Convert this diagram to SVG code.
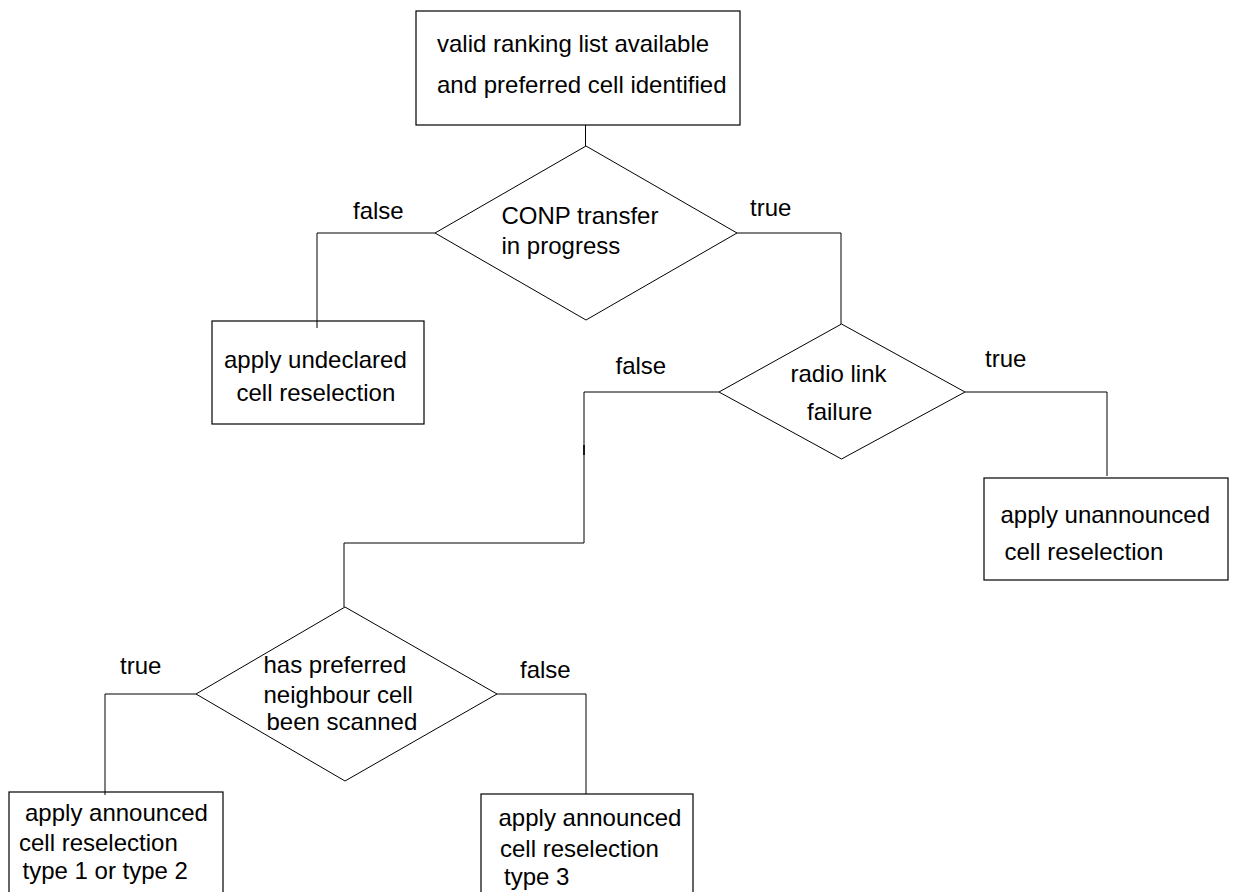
<svg xmlns="http://www.w3.org/2000/svg" width="1240" height="892" viewBox="0 0 1240 892">
<style>
.box{fill:none;stroke:#000;stroke-width:1.2}
.dia{fill:none;stroke:#000;stroke-width:1}
.con{fill:none;stroke:#000;stroke-width:1}
text{font-family:"Liberation Sans",Arial,sans-serif;font-size:24px;fill:#000}
</style>
<rect width="1240" height="892" fill="#fff"/>
<g id="connectors">
<path class="con" d="M585.5,125V146"/>
<path class="con" d="M435,233H317V328"/>
<path class="con" d="M737,233H841V324"/>
<path class="con" d="M719,392H584V543H344V607"/>
<path class="con" d="M584,445V455" style="stroke-width:1.6"/>
<path class="con" d="M965,392H1107V476"/>
<path class="con" d="M196,694H105V795"/>
<path class="con" d="M497,694H586V794"/>
<text x="353" y="219">false</text>
<text x="750" y="216">true</text>
<text x="615.5" y="374">false</text>
<text x="985" y="367">true</text>
<text x="120" y="674">true</text>
<text x="520" y="678">false</text>
</g>
<g id="start">
<rect class="box" x="416" y="11" width="324" height="114"/>
<text x="437" y="52">valid ranking list available</text>
<text x="437" y="93">and preferred cell identified</text>
</g>
<g id="d1">
<polygon class="dia" points="586,146 737,233 586,320 435,233"/>
<text x="501.5" y="224">CONP transfer</text>
<text x="501.5" y="254">in progress</text>
</g>
<g id="undeclared">
<rect class="box" x="212" y="321" width="212" height="103"/>
<text x="224" y="368">apply undeclared</text>
<text x="236.5" y="401">cell reselection</text>
</g>
<g id="d2">
<polygon class="dia" points="841.5,324 965,392 841.5,459 719,392"/>
<text x="790.5" y="382">radio link</text>
<text x="807" y="419.5">failure</text>
</g>
<g id="unannounced">
<rect class="box" x="984" y="478" width="244" height="102"/>
<text x="1000.5" y="523">apply unannounced</text>
<text x="1004.5" y="560">cell reselection</text>
</g>
<g id="d3">
<polygon class="dia" points="345,607 497,694 345,781 196,694"/>
<text x="263.5" y="673">has preferred</text>
<text x="263.5" y="702.5">neighbour cell</text>
<text x="266.5" y="730">been scanned</text>
</g>
<g id="announced12">
<rect class="box" x="9" y="792" width="214" height="110"/>
<text x="25" y="821">apply announced</text>
<text x="19" y="851">cell reselection</text>
<text x="22.5" y="879">type 1 or type 2</text>
</g>
<g id="announced3">
<rect class="box" x="481" y="794" width="212" height="110"/>
<text x="498.5" y="826">apply announced</text>
<text x="500" y="857">cell reselection</text>
<text x="504" y="885">type 3</text>
</g>
</svg>
